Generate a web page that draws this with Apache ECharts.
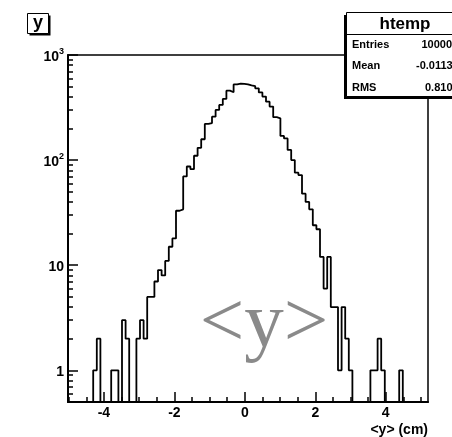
<!DOCTYPE html>
<html><head><meta charset="utf-8">
<script src="https://cdn.jsdelivr.net/npm/echarts@6/dist/echarts.min.js"></script>
<style>html,body{margin:0;padding:0;background:#fff}#c{width:452px;height:437px}</style>
</head><body><div id="c"></div>
<script>
// ---- data ----
const X_MIN = -5.02, X_MAX = 5.2;
const Y_MIN = 0.5, Y_MAX = 1000;
const counts = [
  0, 0, 0, 0, 0, 0, 0, 1, 2, 0,
  0, 0, 1, 1, 0, 3, 2, 0, 0, 2,
  3, 2, 5, 5, 7, 9, 8, 11, 15, 18,
  33, 34, 70, 87, 82, 110, 131, 158, 221, 225,
  259, 300, 335, 382, 458, 442, 525, 535, 532, 525,
  515, 507, 482, 441, 402, 360, 323, 256, 250, 170,
  161, 125, 100, 76, 72, 48, 40, 34, 24, 22,
  12, 6, 12, 4, 4, 1, 4, 2, 1, 0,
  0, 0, 0, 0, 1, 1, 2, 1, 0, 0,
  0, 0, 1, 0, 0, 0, 0, 0, 0, 0
];
const xMajorTicks = [-4, -2, 0, 2, 4];
const xMinorTicks = [-5, -4.5, -3.5, -3, -2.5, -1.5, -1, -0.5, 0.5, 1, 1.5, 2.5, 3, 3.5, 4.5, 5];
const yMajorTicks = [1, 10, 100, 1000];
const yMajorLabels = ['1', '10', '10^2', '10^3'];
const yMinorTicks = [0.6, 0.7, 0.8, 0.9, 2, 3, 4, 5, 6, 7, 8, 9, 20, 30, 40, 50, 60, 70, 80, 90, 200, 300, 400, 500, 600, 700, 800, 900];
const histTitle = 'htemp';
const statsNames = ['Entries', 'Mean', 'RMS'];
const statsValues = ['10000', '-0.01132', '0.8101'];
const xTitle = '<y> (cm)';
const padTitle = 'y';
const overlayText = '<y>';

// ---- build step outline from bins ----
const binW = (X_MAX - X_MIN) / counts.length;
const stepPts = [];
counts.forEach((c, i) => {
  const v = c > 0 ? c : Y_MIN;
  const x0 = X_MIN + i * binW;
  stepPts.push([x0, v], [x0 + binW, v]);
});

const FONT = '"Liberation Sans", Arial, Helvetica, sans-serif';
const chart = echarts.init(document.getElementById('c'), null, {renderer: 'canvas'});

function yLabel(v) {
  const p = Math.round(Math.log10(v));
  const idx = yMajorTicks.findIndex(t => Math.round(Math.log10(t)) === p);
  if (idx < 0) return '';
  const s = yMajorLabels[idx];
  if (s.indexOf('^') >= 0) {
    const [b, e] = s.split('^');
    return '{b|' + b + '}{s|' + e + '}';
  }
  return '{b|' + s + '}';
}

const option = {
  animation: false,
  backgroundColor: '#fff',
  grid: {left: 68, right: 24, top: 55, bottom: 34, show: true, borderColor: '#000', borderWidth: 1.5, backgroundColor: 'transparent'},
  xAxis: [{
    type: 'value', min: X_MIN, max: X_MAX, position: 'bottom',
    axisLine: {show: true, onZero: false, lineStyle: {color: '#000', width: 2}},
    axisTick: {show: true, inside: true, length: 10, customValues: xMajorTicks, lineStyle: {color: '#000', width: 1.5}},
    axisLabel: {show: true, customValues: xMajorTicks, margin: 4, color: '#000', fontSize: 14, fontWeight: 'bold', fontFamily: FONT},
    splitLine: {show: false},
    name: xTitle, nameLocation: 'end', nameGap: 0,
    nameTextStyle: {align: 'right', verticalAlign: 'top', padding: [21, 0, 0, 0], color: '#000', fontSize: 14, fontWeight: 'bold', fontFamily: FONT}
  }, {
    type: 'value', min: X_MIN, max: X_MAX, position: 'bottom',
    axisLine: {show: false, onZero: false},
    axisTick: {show: true, inside: true, length: 5, customValues: xMinorTicks, lineStyle: {color: '#000', width: 1.5}},
    axisLabel: {show: false},
    splitLine: {show: false}
  }],
  yAxis: [{
    type: 'log', logBase: 10, min: Y_MIN, max: Y_MAX, position: 'left',
    axisLine: {show: true, onZero: false, lineStyle: {color: '#000', width: 2}},
    axisTick: {show: true, inside: true, length: 10, customValues: yMajorTicks, lineStyle: {color: '#000', width: 1.5}},
    axisLabel: {
      show: true, customValues: yMajorTicks, margin: 4, formatter: yLabel,
      rich: {
        b: {fontSize: 14, fontWeight: 'bold', color: '#000', fontFamily: FONT, lineHeight: 18, verticalAlign: 'bottom'},
        s: {fontSize: 9, fontWeight: 'bold', color: '#000', fontFamily: FONT, verticalAlign: 'bottom', padding: [0, 0, 8, 0]}
      }
    },
    splitLine: {show: false}
  }, {
    type: 'log', logBase: 10, min: Y_MIN, max: Y_MAX, position: 'left',
    axisLine: {show: false, onZero: false},
    axisTick: {show: true, inside: true, length: 5, customValues: yMinorTicks, lineStyle: {color: '#000', width: 1.5}},
    axisLabel: {show: false},
    splitLine: {show: false}
  }],
  series: [{
    type: 'line', xAxisIndex: 0, yAxisIndex: 0, data: stepPts,
    showSymbol: false, symbol: 'none', clip: true,
    lineStyle: {color: '#000', width: 1.8}
  }],
  graphic: [
    // overlay big grey text
    {type: 'text', z: 5, style: {text: overlayText, x: 264, y: 325, align: 'center', verticalAlign: 'middle', fill: '#8a8a8a', font: '79px "Liberation Serif", "Times New Roman", serif'}},
    // pad title box "y"
    {type: 'rect', z: 10, shape: {x: 29.5, y: 15.5, width: 21, height: 20}, style: {fill: '#000'}},
    {type: 'rect', z: 11, shape: {x: 27.5, y: 13.5, width: 21, height: 20}, style: {fill: '#fff', stroke: '#000', lineWidth: 1}},
    {type: 'text', z: 12, style: {text: padTitle, x: 38, y: 23.5, align: 'center', verticalAlign: 'middle', fill: '#000', font: 'bold 18px ' + FONT}},
    // stats box
    {type: 'rect', z: 10, shape: {x: 344, y: 15, width: 130, height: 84}, style: {fill: '#000'}},
    {type: 'rect', z: 11, shape: {x: 346.5, y: 12.5, width: 130, height: 84}, style: {fill: '#fff', stroke: '#000', lineWidth: 1}},
    {type: 'line', z: 12, shape: {x1: 346.5, y1: 34.5, x2: 476, y2: 34.5}, style: {stroke: '#000', lineWidth: 1}},
    {type: 'text', z: 12, style: {text: histTitle, x: 405, y: 24, align: 'center', verticalAlign: 'middle', fill: '#000', font: 'bold 17px ' + FONT}},
    {type: 'text', z: 12, style: {text: statsNames[0], x: 352, y: 45, align: 'left', verticalAlign: 'middle', fill: '#000', font: 'bold 11px ' + FONT}},
    {type: 'text', z: 12, style: {text: statsNames[1], x: 352, y: 66, align: 'left', verticalAlign: 'middle', fill: '#000', font: 'bold 11px ' + FONT}},
    {type: 'text', z: 12, style: {text: statsNames[2], x: 352, y: 88, align: 'left', verticalAlign: 'middle', fill: '#000', font: 'bold 11px ' + FONT}},
    {type: 'text', z: 12, style: {text: statsValues[0], x: 421.5, y: 45, align: 'left', verticalAlign: 'middle', fill: '#000', font: 'bold 11px ' + FONT}},
    {type: 'text', z: 12, style: {text: statsValues[1], x: 416, y: 66, align: 'left', verticalAlign: 'middle', fill: '#000', font: 'bold 11px ' + FONT}},
    {type: 'text', z: 12, style: {text: statsValues[2], x: 425, y: 88, align: 'left', verticalAlign: 'middle', fill: '#000', font: 'bold 11px ' + FONT}}
  ]
};
chart.setOption(option);
</script>
</body></html>
